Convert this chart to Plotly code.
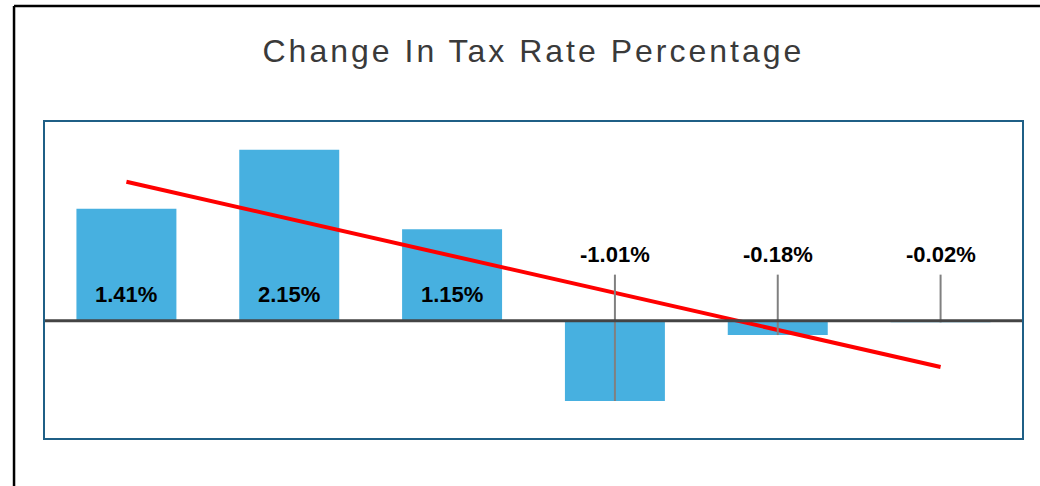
import numpy as np
import plotly.graph_objects as go

categories = ["P1", "P2", "P3", "P4", "P5", "P6"]
values = [1.41, 2.15, 1.15, -1.01, -0.18, -0.02]
labels = ["1.41%", "2.15%", "1.15%", "-1.01%", "-0.18%", "-0.02%"]
title_text = "Change In Tax Rate Percentage"

BAR_COLOR = "#47b0e0"
BORDER_COLOR = "#1f5f86"

idx = np.arange(len(values))
slope, intercept = np.polyfit(idx + 1, values, 1)
trend = [slope * (i + 1) + intercept for i in idx]

fig = go.Figure()
fig.add_trace(go.Bar(x=categories, y=values, marker=dict(color=BAR_COLOR, line=dict(width=0)),
                     width=0.614, hoverinfo="skip", showlegend=False))
fig.add_trace(go.Scatter(x=[categories[0], categories[-1]], y=[trend[0], trend[-1]], mode="lines",
                         line=dict(color="#ff0000", width=4), showlegend=False, hoverinfo="skip"))

LABEL_FONT = dict(family="Liberation Sans, Arial", size=22, color="#000000", weight="bold")
annotations = []
shapes = []
for c, v, t in zip(categories, values, labels):
    if v >= 0:
        annotations.append(dict(x=c, y=0.33, xref="x", yref="y", text=t, showarrow=False,
                                font=LABEL_FONT, yanchor="middle"))
    else:
        annotations.append(dict(x=c, y=0.83, xref="x", yref="y", text=t, showarrow=False,
                                font=LABEL_FONT, yanchor="middle"))
        shapes.append(dict(type="line", xref="x", yref="y", x0=c, x1=c, y0=v, y1=0.58,
                           line=dict(color="#808080", width=2), layer="above"))

# zero line
shapes.append(dict(type="line", xref="paper", yref="y", x0=0, x1=1, y0=0, y1=0,
                   line=dict(color="#444444", width=3), layer="above"))
# outer frame (left and top)
shapes.append(dict(type="line", xref="paper", yref="paper", x0=-0.0317, x1=-0.0317, y0=-0.2, y1=1.367,
                   line=dict(color="#000000", width=2.5)))
shapes.append(dict(type="line", xref="paper", yref="paper", x0=-0.0317, x1=1.0184, y0=1.367, y1=1.367,
                   line=dict(color="#000000", width=2.5)))

annotations.append(dict(x=0.5005, y=1.225, xref="paper", yref="paper", text=title_text, showarrow=False,
                        font=dict(family="Liberation Sans, Arial", size=32, color="#3a3a3a"),
                        yanchor="middle", xanchor="center"))

fig.update_layout(
    width=1040, height=486,
    margin=dict(l=45, r=18, t=122, b=48),
    paper_bgcolor="white", plot_bgcolor="white",
    annotations=annotations, shapes=shapes,
    xaxis=dict(showticklabels=False, showgrid=False, zeroline=False, showline=True, mirror=True,
               linecolor=BORDER_COLOR, linewidth=2, range=[-0.5, 5.5], ticks=""),
    yaxis=dict(showticklabels=False, showgrid=False, zeroline=False, showline=True, mirror=True,
               linecolor=BORDER_COLOR, linewidth=2, range=[-1.475, 2.5], ticks=""),
)

post = """
document.body.style.margin = '0';
document.body.style.padding = '0';
document.body.style.overflow = 'hidden';
var texts = document.querySelectorAll('.annotation-text');
texts.forEach(function(t){ if (t.textContent.indexOf('Change') === 0) { t.style.letterSpacing = '3px'; } });
"""
fig.write_html("out.html", post_script=post, config={"displayModeBar": False})
